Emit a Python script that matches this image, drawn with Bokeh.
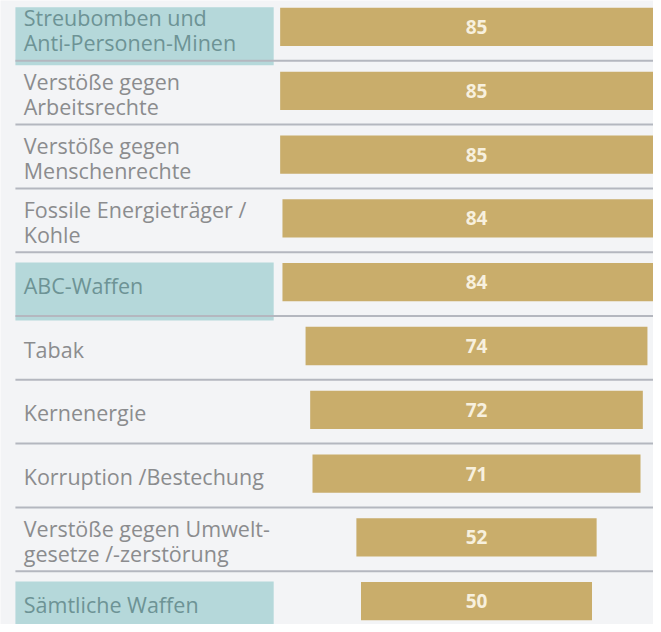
from bokeh.plotting import figure
from bokeh.models import ColumnDataSource, Range1d
from bokeh.core.properties import value
from bokeh.embed import file_html
from bokeh.resources import INLINE

# ---- data ----
categories = [
    "Streubomben und\nAnti-Personen-Minen",
    "Verstöße gegen\nArbeitsrechte",
    "Verstöße gegen\nMenschenrechte",
    "Fossile Energieträger /\nKohle",
    "ABC-Waffen",
    "Tabak",
    "Kernenergie",
    "Korruption /Bestechung",
    "Verstöße gegen Umwelt-\ngesetze /-zerstörung",
    "Sämtliche Waffen",
]
values = [85, 85, 85, 84, 84, 74, 72, 71, 52, 50]
highlighted = [True, False, False, False, True, False, False, False, False, True]

# ---- styles ----
BG = "#f3f4f6"
BAR = "#c9ad6b"
TEAL = "#b5d8da"
SEP = "#b4b7bf"
TXT = "#8b8c8e"
TXT_HL = "#6d9395"
FONT = "Open Sans"

LABEL_X = -98.0
BOX_L, BOX_R = -99.8, -43.9
X_START, X_END = -103.03, 38.31
Y_BOTTOM, Y_TOP = 9.365, -0.415

rows = list(range(len(categories)))
src = ColumnDataSource(dict(
    y=rows,
    cat=categories,
    val=values,
    left=[-v / 2 for v in values],
    right=[v / 2 for v in values],
    txt=[str(v) for v in values],
))

p = figure(width=653, height=624, output_backend="svg", toolbar_location=None,
           x_range=Range1d(X_START, X_END), y_range=Range1d(Y_BOTTOM, Y_TOP),
           min_border=0, outline_line_color=None,
           background_fill_color=BG, border_fill_color=BG)
p.axis.visible = False
p.grid.visible = False

# highlighted label boxes
hl_rows = [r for r, h in zip(rows, highlighted) if h]
p.quad(left=BOX_L, right=BOX_R, top=[r - 0.31 for r in hl_rows],
       bottom=[r + 0.6 for r in hl_rows], fill_color=TEAL, line_color=None)

# separators
sep_rows = rows[:-1]
p.segment(x0=BOX_L, x1=X_END, y0=[r + 0.53 for r in sep_rows],
          y1=[r + 0.53 for r in sep_rows], line_color=SEP, line_width=2)

# bars centred on 0
p.hbar(y="y", left="left", right="right", height=0.6, source=src,
       fill_color=BAR, line_color=None)

# value labels
p.text(x=0, y="y", text="txt", source=src, text_align="center",
       text_baseline="middle", text_color="#f7f0de",
       text_font=value(FONT), text_font_style="bold", text_font_size="19px")

# category labels
p.text(x=LABEL_X, y=[r + 0.05 for r in rows], text=categories,
       text_align="left", text_baseline="middle",
       text_color=[TXT_HL if h else TXT for h in highlighted],
       text_font=value(FONT), text_font_size="21.5px", text_line_height=0.86)

open("out.html", "w").write(file_html(p, INLINE))
